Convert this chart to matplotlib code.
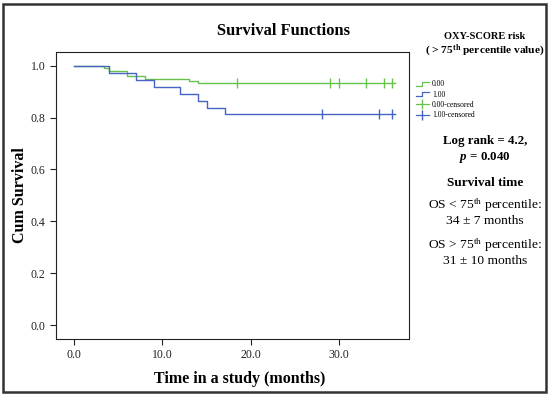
import matplotlib
matplotlib.use("Agg")
import matplotlib.pyplot as plt
from matplotlib.lines import Line2D
from matplotlib.patches import Rectangle
from matplotlib.legend_handler import HandlerBase

GREEN = "#66c24c"
BLUE = "#4763c4"

# Kaplan-Meier steps
green_times = [0, 3.4, 4.0, 6.0, 8.0, 13.0, 14.0, 36.4]
green_surv = [1.0, 0.99, 0.978, 0.96, 0.95, 0.94, 0.932, 0.932]
green_cens_t = [18.5, 29.0, 30.0, 33.1, 35.1, 36.1]

blue_times = [0, 4.0, 7.0, 9.0, 12.0, 14.0, 15.1, 17.1, 36.4]
blue_surv = [1.0, 0.973, 0.946, 0.919, 0.892, 0.865, 0.838, 0.812, 0.812]
blue_cens_t = [28.1, 34.6, 36.1]

x_ticks = [0, 10, 20, 30]
y_ticks = [0.0, 0.2, 0.4, 0.6, 0.8, 1.0]
legend_labels = ["0.00", "1.00", "0.00-censored", "1.00-censored"]

plt.rcParams["font.family"] = ["Liberation Serif", "DejaVu Serif"]
plt.rcParams["mathtext.fontset"] = "custom"
plt.rcParams["mathtext.rm"] = "Liberation Serif"
plt.rcParams["mathtext.bf"] = "Liberation Serif:bold"
plt.rcParams["mathtext.it"] = "Liberation Serif:italic:bold"


class StepHandler(HandlerBase):
    def create_artists(self, legend, orig_handle, x0, y0, width, height, fontsize, trans):
        lo, hi = y0 + height * 0.15, y0 + height * 0.85
        xm = x0 + width * 0.5
        ln = Line2D([x0, xm, xm, x0 + width], [lo, lo, hi, hi],
                    color=orig_handle.get_color(), lw=0.9, transform=trans)
        return [ln]


def last_value(times, surv, t):
    v = surv[0]
    for tt, s in zip(times, surv):
        if tt <= t:
            v = s
    return v


fig = plt.figure(figsize=(5.5, 3.97), dpi=100)
ax = fig.add_axes([0.102, 0.146, 0.642, 0.724])

ax.step(green_times, green_surv, where="post", color=GREEN, lw=1.0)
ax.step(blue_times, blue_surv, where="post", color=BLUE, lw=1.0)
ax.plot(green_cens_t, [last_value(green_times, green_surv, t) for t in green_cens_t],
        ls="none", marker="|", ms=7, mew=1.0, color=GREEN)
ax.plot(blue_cens_t, [last_value(blue_times, blue_surv, t) for t in blue_cens_t],
        ls="none", marker="|", ms=7, mew=1.0, color=BLUE)

ax.set_xlim(-2.05, 38.0)
ax.set_ylim(-0.054, 1.054)
ax.set_xticks(x_ticks)
ax.set_xticklabels([f"{t:.1f}" for t in x_ticks])
ax.set_yticks(y_ticks)
ax.set_yticklabels([f"{t:.1f}" for t in y_ticks])
ax.tick_params(direction="out", length=4, width=0.8, labelsize=8.5, colors="#222222")
for sp in ax.spines.values():
    sp.set_linewidth(0.8)
    sp.set_color("#222222")

ax.set_xlabel("Time in a study (months)", fontsize=11.5, fontweight="bold")
ax.xaxis.set_label_coords(0.52, -0.11)
ax.set_ylabel("Cum Survival", fontsize=11.5, fontweight="bold")
ax.yaxis.set_label_coords(-0.08, 0.5)
fig.text(0.515, 0.922, "Survival Functions", ha="center", va="center",
         fontsize=11.8, fontweight="bold")

# legend
handles = [Line2D([], [], color=GREEN), Line2D([], [], color=BLUE),
           Line2D([], [], color=GREEN, marker="|", ms=7, lw=0.9),
           Line2D([], [], color=BLUE, marker="|", ms=7, lw=0.9)]
fig.legend(handles, legend_labels, loc="upper left", bbox_to_anchor=(0.75, 0.805),
           frameon=False, fontsize=5.5, handlelength=1.8, handletextpad=0.35,
           labelspacing=0.3, borderaxespad=0, numpoints=1,
           handler_map={handles[0]: StepHandler(), handles[1]: StepHandler()})

# right-hand notes
cx = 0.882
fig.text(cx, 0.907, "OXY-SCORE risk", ha="center", va="center", fontsize=7.5, fontweight="bold")
fig.text(cx, 0.872, r"( > 75$^{\mathbf{th}}$ percentile value)", ha="center", va="center",
         fontsize=8.2, fontweight="bold")
fig.text(cx, 0.645, "Log rank = 4.2,", ha="center", va="center", fontsize=9.3, fontweight="bold")
fig.text(cx, 0.604, r"$\mathit{p}$ = 0.040", ha="center", va="center", fontsize=9.3,
         fontweight="bold")
fig.text(cx, 0.539, "Survival time", ha="center", va="center", fontsize=9.5, fontweight="bold")
fig.text(cx, 0.484, r"OS < 75$^{\mathrm{th}}$ percentile:", ha="center", va="center", fontsize=9.7)
fig.text(cx, 0.443, "34 ± 7 months", ha="center", va="center", fontsize=9.7)
fig.text(cx, 0.383, r"OS > 75$^{\mathrm{th}}$ percentile:", ha="center", va="center", fontsize=9.7)
fig.text(cx, 0.342, "31 ± 10 months", ha="center", va="center", fontsize=9.7)

# outer frame
fig.patches.append(Rectangle((0.006, 0.012), 0.987, 0.979, transform=fig.transFigure,
                             fill=False, lw=1.8, edgecolor="#333333"))

fig.savefig("out.png", dpi=100)
